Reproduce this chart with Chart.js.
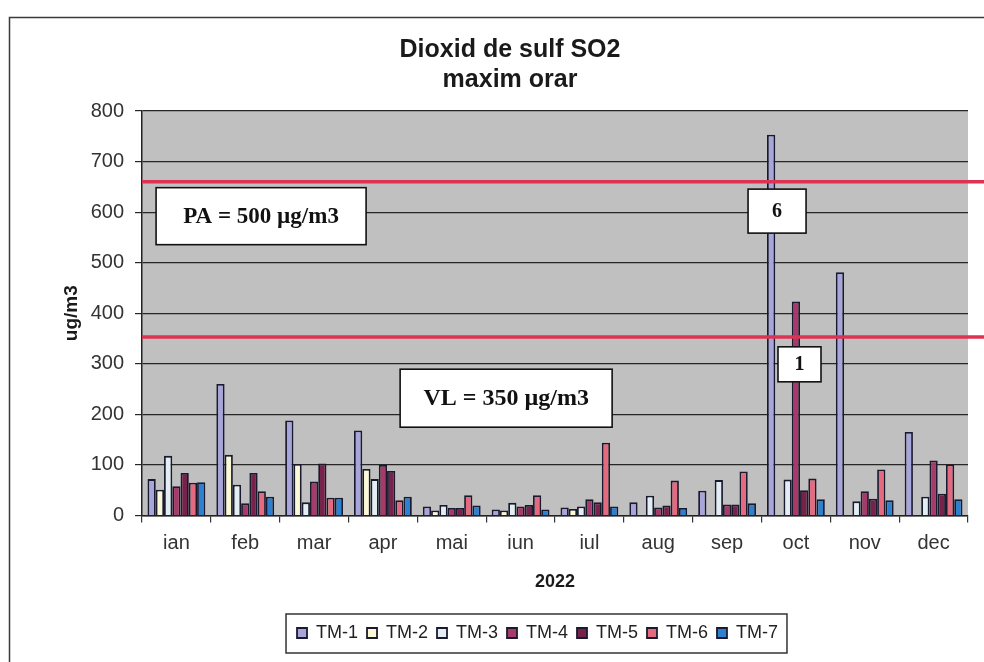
<!DOCTYPE html>
<html><head><meta charset="utf-8">
<script src="https://cdn.jsdelivr.net/npm/chart.js@4/dist/chart.umd.min.js"></script>
<style>html,body{margin:0;padding:0;background:#fff;}canvas{display:block;}</style>
</head><body>
<canvas id="c" width="984" height="662" style="width:984px;height:662px"></canvas>
<script>
// ---- data ----
const categories = ['ian','feb','mar','apr','mai','iun','iul','aug','sep','oct','nov','dec'];
const seriesNames = ['TM-1','TM-2','TM-3','TM-4','TM-5','TM-6','TM-7'];
const tm1 = [72, 260, 188, 168, 18, 12, 16, 26, 49, 753, 481, 165];
const tm2 = [51, 120, 102, 92, 10, 10, 13, null, null, null, null, null];
const tm3 = [118, 61, 26, 72, 21, 25, 18, 39, 70, 71, 28, 37];
const tm4 = [58, 24, 67, 100, 15, 18, 32, 16, 22, 423, 48, 109];
const tm5 = [84, 84, 103, 88, 15, 21, 26, 20, 22, 50, 33, 43];
const tm6 = [65, 48, 35, 30, 40, 40, 144, 69, 87, 73, 91, 101];
const tm7 = [66, 37, 35, 37, 20, 12, 18, 15, 24, 32, 30, 32];
const yMin = 0, yMax = 800, yStep = 100;
const limitValues = [660, 353];
const titleLines = ['Dioxid de sulf SO2', 'maxim orar'];
const yTitle = 'ug/m3';
const xTitle = '2022';
const noteTexts = ['PA = 500 µg/m3', 'VL = 350 µg/m3', '6', '1'];

// ---- styling / layout ----
const SANS = '"Liberation Sans", Arial, sans-serif';
const SERIF = '"Liberation Serif", "Times New Roman", serif';
const colors = ['#a7a5da', '#fbf8d6', '#e2eef4', '#a63a68', '#76224a', '#e46a80', '#2d7fcf'];
const seriesData = [tm1, tm2, tm3, tm4, tm5, tm6, tm7];
const noteLayout = [
  {x: 1.23, y: 592, w: 210, h: 57, size: 23},
  {x: 4.79, y: 232, w: 212, h: 58, size: 24},
  {x: 8.726, y: 602, w: 58, h: 44, size: 20},
  {x: 9.052, y: 299, w: 43, h: 35, size: 20}
];

const deco = {
  id: 'deco',
  beforeLayout(chart) {
    const lg = chart.legend;
    if (lg && !lg._fixedH) {
      const f = lg.fit;
      lg.fit = function () { f.call(this); this.height = 47; };
      lg._fixedH = true;
    }
  },
  afterLayout(chart) {
    const lg = chart.legend;
    if (lg) { lg.left += 27.5; lg.right += 27.5; }
  },
  beforeDraw(chart) {
    const {ctx, chartArea: a, width, height} = chart;
    ctx.save();
    ctx.fillStyle = '#fff';
    ctx.fillRect(0, 0, width, height);
    ctx.strokeStyle = '#3a3a3a';
    ctx.lineWidth = 1.5;
    ctx.strokeRect(9.5, 17.5, width + 20, height + 20);
    ctx.fillStyle = '#c0c0c0';
    ctx.fillRect(a.left, a.top, a.right - a.left, a.bottom - a.top);
    ctx.restore();
  },
  afterDatasetsDraw(chart) {
    const {ctx, chartArea: a, width, scales: {x, y}} = chart;
    ctx.save();
    ctx.strokeStyle = '#dc3352';
    ctx.lineWidth = 3.5;
    limitValues.forEach(v => {
      const py = y.getPixelForValue(v);
      ctx.beginPath(); ctx.moveTo(a.left, py); ctx.lineTo(width, py); ctx.stroke();
    });
    noteTexts.forEach((t, i) => {
      const n = noteLayout[i];
      const cx = x.getPixelForValue(n.x), cy = y.getPixelForValue(n.y);
      ctx.fillStyle = '#fff';
      ctx.fillRect(cx - n.w / 2, cy - n.h / 2, n.w, n.h);
      ctx.strokeStyle = '#111';
      ctx.lineWidth = 1.6;
      ctx.strokeRect(cx - n.w / 2, cy - n.h / 2, n.w, n.h);
      ctx.fillStyle = '#111';
      ctx.font = 'bold ' + n.size + 'px ' + SERIF;
      ctx.textAlign = 'center';
      ctx.textBaseline = 'middle';
      ctx.fillText(t, cx, cy + 1);
    });
    ctx.restore();
  },
  afterDraw(chart) {
    const lg = chart.legend;
    if (!lg || !lg.legendHitBoxes) return;
    const hb = lg.legendHitBoxes;
    const ctx = chart.ctx;
    const l = Math.min(...hb.map(h => h.left)) - 11;
    const r = Math.max(...hb.map(h => h.left + h.width)) + 9;
    const t = hb[0].top - 10;
    ctx.save();
    ctx.strokeStyle = '#333';
    ctx.lineWidth = 1.5;
    ctx.strokeRect(l, t, r - l, 39);
    ctx.restore();
  }
};

new Chart(document.getElementById('c'), {
  type: 'bar',
  data: {
    labels: categories,
    datasets: seriesNames.map((name, i) => ({
      label: name,
      data: seriesData[i],
      backgroundColor: colors[i],
      borderColor: '#1a1a2e',
      borderWidth: 1.8,
      categoryPercentage: 0.84,
      barPercentage: 1.0
    }))
  },
  options: {
    responsive: false,
    animation: false,
    devicePixelRatio: 1,
    layout: {padding: {left: 52, right: 16, top: 0, bottom: 0}},
    plugins: {
      tooltip: {enabled: false},
      title: {
        display: true,
        text: titleLines,
        color: '#1a1a1a',
        font: {family: SANS, size: 25, weight: 'bold', lineHeight: 1.2},
        padding: {top: 35, bottom: 16}
      },
      legend: {
        display: true,
        position: 'bottom',
        labels: {
          color: '#222',
          font: {family: SANS, size: 18},
          boxWidth: 10,
          boxHeight: 10,
          padding: 9
        }
      }
    },
    scales: {
      x: {
        afterFit: s => { s.height = 99.5; },
        grid: {display: true, drawOnChartArea: false, drawTicks: true, tickLength: 7, offset: true, color: '#333', lineWidth: 1.2},
        border: {display: true, color: '#222', width: 1.5},
        ticks: {color: '#333', font: {family: SANS, size: 20}, padding: 9},
        title: {display: true, text: xTitle, color: '#1a1a1a', font: {family: SANS, size: 18, weight: 'bold'}, padding: {top: 0, bottom: 22}}
      },
      y: {
        min: yMin, max: yMax,
        afterFit: s => { s.width = 90; },
        grid: {color: '#262626', lineWidth: 1.2, tickLength: 7, tickColor: '#262626'},
        border: {display: true, color: '#222', width: 1.5},
        ticks: {stepSize: yStep, color: '#333', font: {family: SANS, size: 20}, padding: 11},
        title: {display: true, text: yTitle, color: '#1a1a1a', font: {family: SANS, size: 19, weight: 'bold'}, padding: {top: 8.6, bottom: 0}}
      }
    }
  },
  plugins: [deco]
});
</script>
</body></html>
